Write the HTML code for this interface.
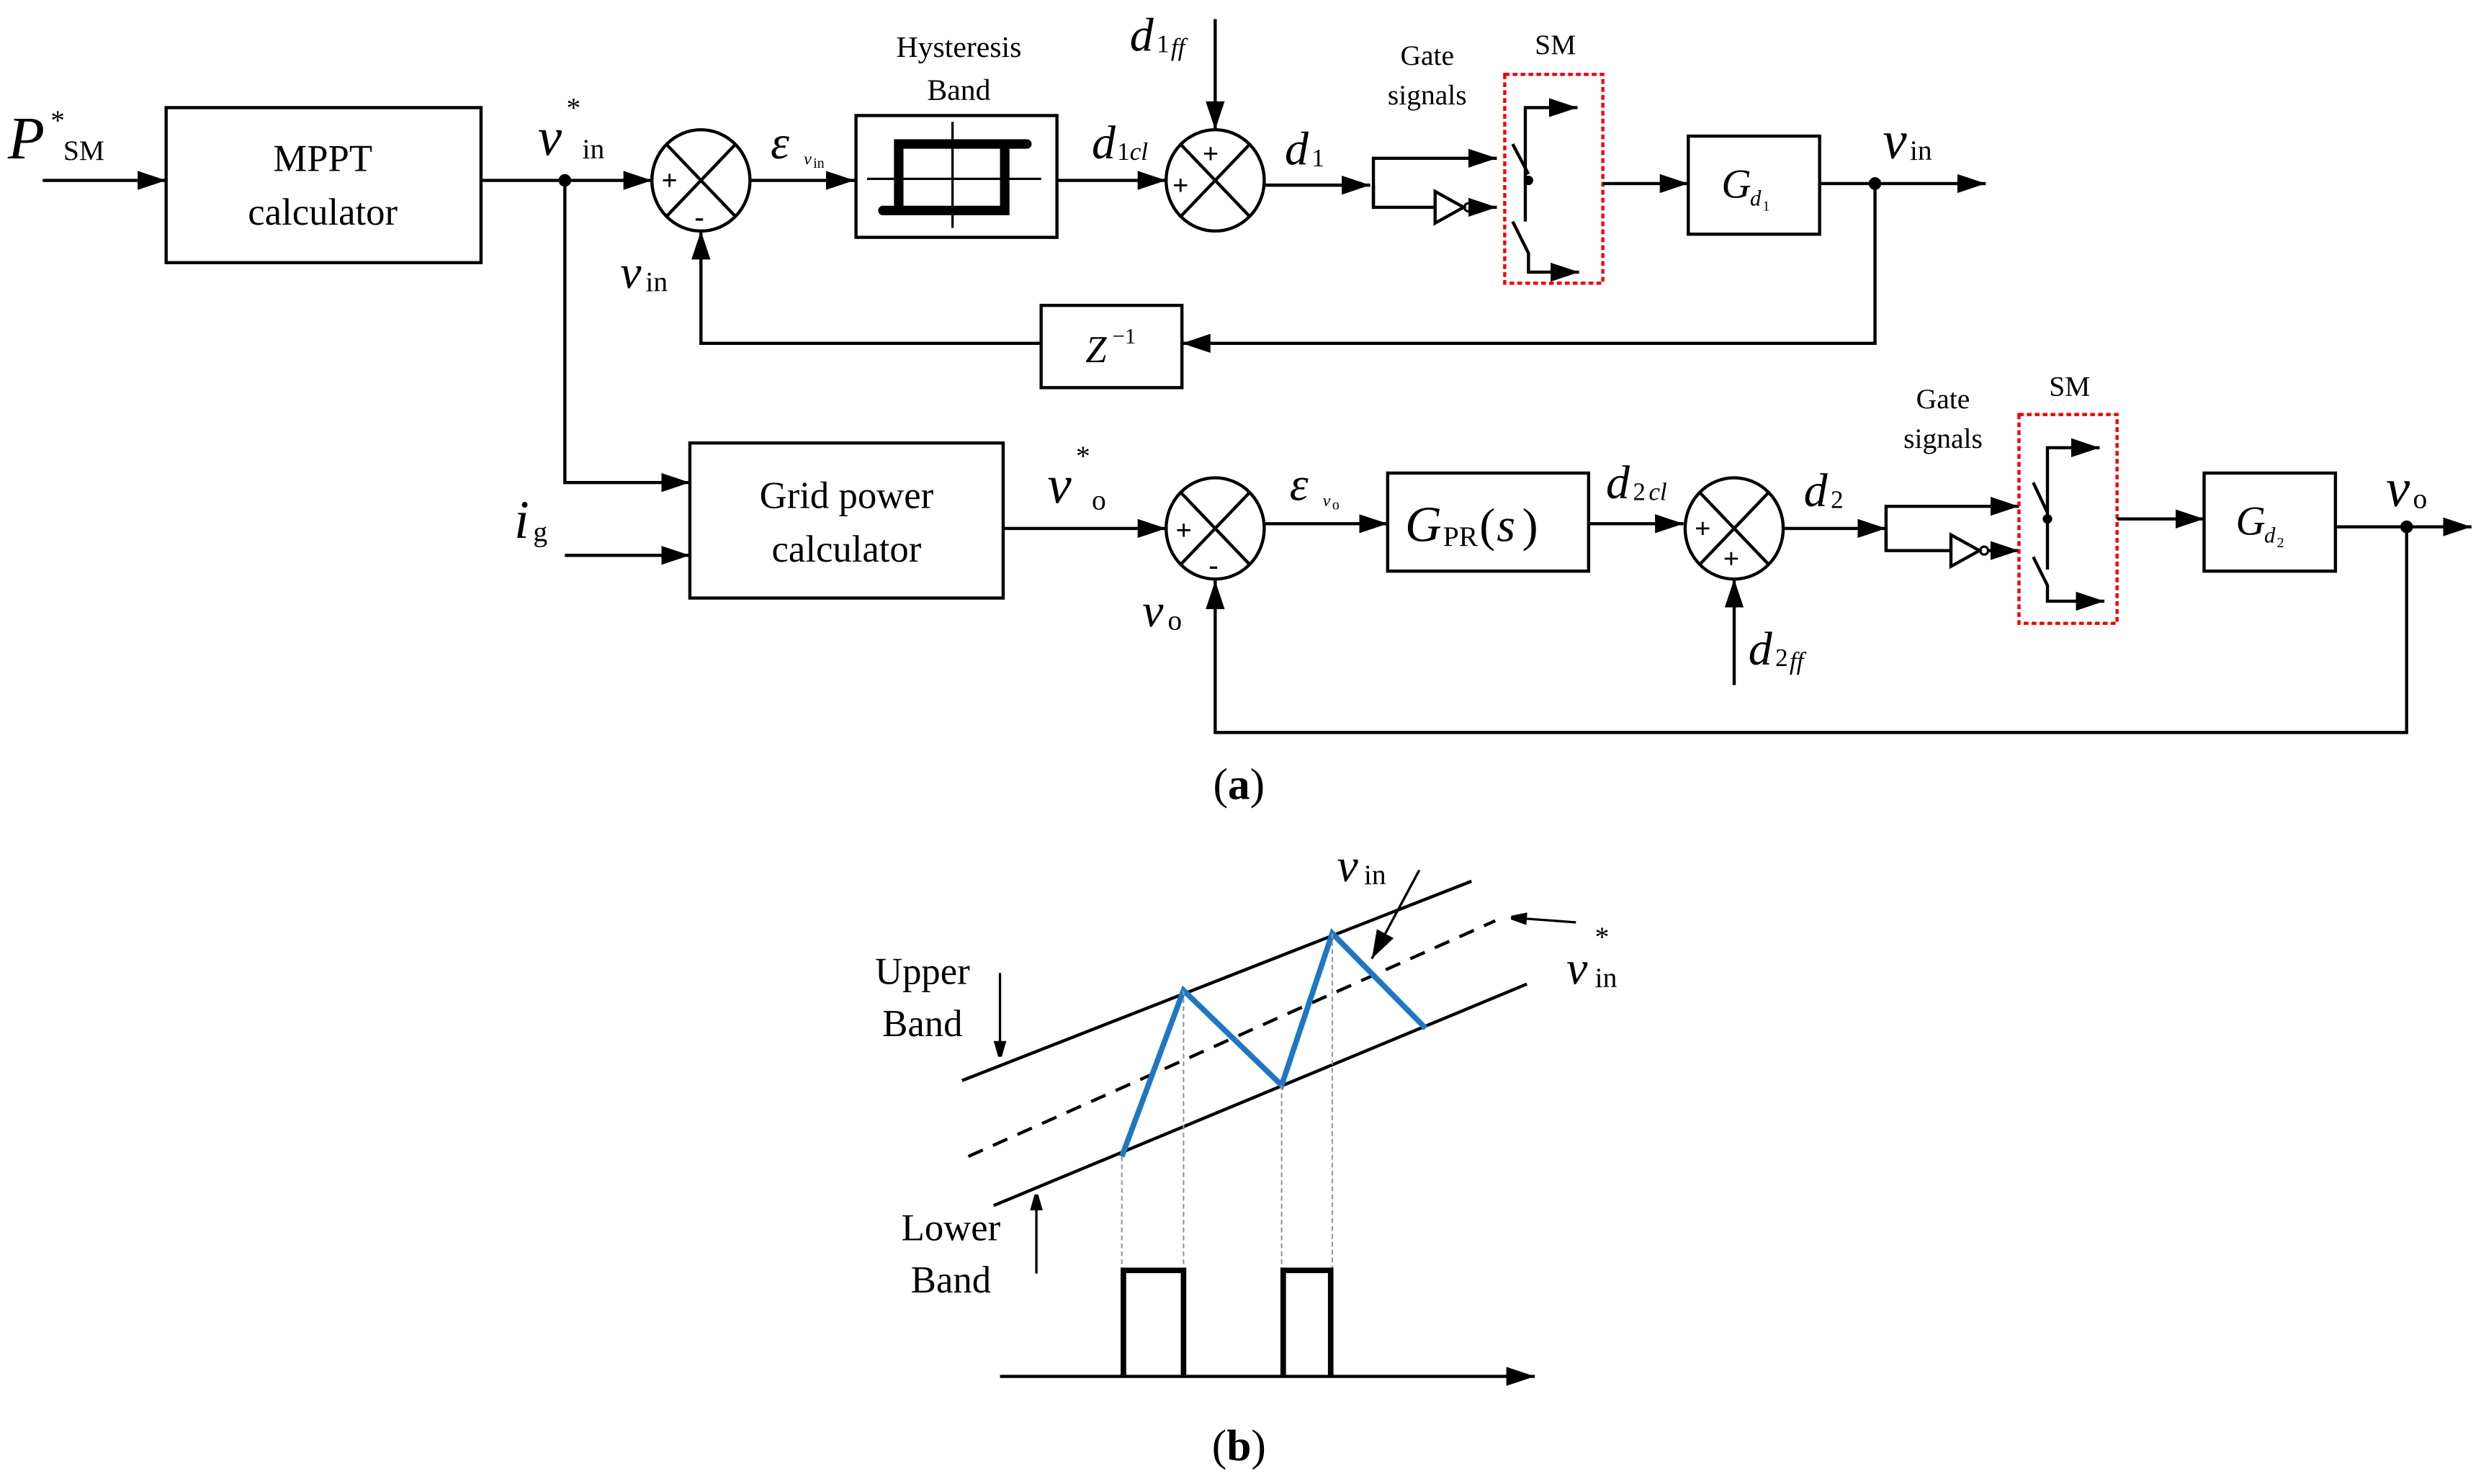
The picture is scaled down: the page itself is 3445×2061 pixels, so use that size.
<!DOCTYPE html>
<html><head><meta charset="utf-8"><style>html,body{margin:0;padding:0;background:#fff}svg{display:block}</style></head>
<body>
<svg xmlns="http://www.w3.org/2000/svg" width="3445" height="2061" viewBox="0 0 1568 938" font-family="Liberation Serif, serif">
<defs>
<marker id="a" markerWidth="10" markerHeight="8" refX="10" refY="4" orient="auto" markerUnits="userSpaceOnUse"><path d="M0,0L14,4L0,8z" fill="#000"/></marker>
<marker id="ab" markerWidth="18" markerHeight="12" refX="18" refY="6" orient="auto" markerUnits="userSpaceOnUse"><path d="M0,0L18,6L0,12z" fill="#000"/></marker>
</defs>
<g stroke="#000" stroke-width="2" fill="none">
<!-- top row -->
<line x1="27" y1="114" x2="105" y2="114" marker-end="url(#ab)"/>
<rect x="105" y="68" width="199" height="98"/>
<line x1="304" y1="114" x2="412" y2="114" marker-end="url(#ab)"/>
<ellipse cx="443" cy="114" rx="31" ry="32"/>
<line x1="421" y1="91" x2="465" y2="137"/><line x1="465" y1="91" x2="421" y2="137"/>
<line x1="475" y1="114" x2="540" y2="114" marker-end="url(#ab)"/>
<rect x="541" y="73" width="127" height="77"/>
<line x1="548" y1="113" x2="658" y2="113" stroke-width="1.5"/><line x1="602" y1="77" x2="602" y2="144" stroke-width="1.5"/>
<path d="M649,91L568,91L568,133M558,133L635,133L635,91" stroke-width="6" stroke-linecap="round"/>
<line x1="668" y1="114" x2="737" y2="114" marker-end="url(#ab)"/>
<ellipse cx="768" cy="114" rx="31" ry="32"/>
<line x1="746" y1="91" x2="790" y2="137"/><line x1="790" y1="91" x2="746" y2="137"/>
<line x1="768" y1="12" x2="768" y2="82" marker-end="url(#ab)"/>
<line x1="799" y1="117" x2="866" y2="117" marker-end="url(#ab)"/>
<path d="M868,131L868,100L946,100" marker-end="url(#ab)"/>
<path d="M868,117L868,131L907,131"/>
<path d="M907,121L907,141L925,131z"/><circle cx="928" cy="131" r="2.5" stroke-width="1.5"/>
<line x1="931" y1="131" x2="946" y2="131" marker-end="url(#ab)"/>
<path d="M964,140L964,68L997,68" marker-end="url(#ab)"/>
<line x1="956" y1="91" x2="966" y2="110"/><circle cx="966" cy="114" r="2" fill="#000"/>
<path d="M956,140L966,160L966,172L998,172" marker-end="url(#ab)"/>
<rect x="951" y="47" width="62" height="132" stroke="#e00" stroke-dasharray="3,2"/>
<line x1="1013" y1="116" x2="1067" y2="116" marker-end="url(#ab)"/>
<rect x="1067" y="86" width="83" height="62"/>
<line x1="1150" y1="116" x2="1255" y2="116" marker-end="url(#ab)"/>
<path d="M1185,116L1185,217L747,217" marker-end="url(#ab)"/>
<rect x="658" y="193" width="89" height="52"/>
<path d="M658,217L443,217L443,146" marker-end="url(#ab)"/>
<!-- second row -->
<path d="M357,114L357,305L436,305" marker-end="url(#ab)"/>
<line x1="357" y1="351" x2="436" y2="351" marker-end="url(#ab)"/>
<rect x="436" y="280" width="198" height="98"/>
<line x1="634" y1="334" x2="737" y2="334" marker-end="url(#ab)"/>
<ellipse cx="768" cy="334" rx="31" ry="32"/>
<line x1="746" y1="311" x2="790" y2="357"/><line x1="790" y1="311" x2="746" y2="357"/>
<line x1="799" y1="331" x2="877" y2="331" marker-end="url(#ab)"/>
<rect x="877" y="299" width="127" height="62"/>
<line x1="1004" y1="331" x2="1064" y2="331" marker-end="url(#ab)"/>
<ellipse cx="1096" cy="334" rx="31" ry="32"/>
<line x1="1074" y1="311" x2="1118" y2="357"/><line x1="1118" y1="311" x2="1074" y2="357"/>
<line x1="1096" y1="433" x2="1096" y2="366" marker-end="url(#ab)"/>
<line x1="1127" y1="334" x2="1192" y2="334" marker-end="url(#ab)"/>
<path d="M1192,348L1192,320L1276,320" marker-end="url(#ab)"/>
<path d="M1192,334L1192,348L1233,348"/>
<path d="M1233,338L1233,358L1251,348z"/><circle cx="1254" cy="348" r="2.5" stroke-width="1.5"/>
<line x1="1257" y1="348" x2="1276" y2="348" marker-end="url(#ab)"/>
<path d="M1294,360L1294,283L1327,283" marker-end="url(#ab)"/>
<line x1="1285" y1="305" x2="1294" y2="324"/><circle cx="1294" cy="328" r="2" fill="#000"/>
<path d="M1285,352L1294,370L1294,380L1330,380" marker-end="url(#ab)"/>
<rect x="1276" y="262" width="62" height="132" stroke="#e00" stroke-dasharray="3,2"/>
<line x1="1338" y1="328" x2="1393" y2="328" marker-end="url(#ab)"/>
<rect x="1393" y="299" width="83" height="62"/>
<line x1="1476" y1="333" x2="1562" y2="333" marker-end="url(#ab)"/>
<path d="M1521,333L1521,463L768,463L768,367" marker-end="url(#ab)"/>
<circle cx="357" cy="114" r="3" fill="#000"/><circle cx="1185" cy="116" r="3" fill="#000"/><circle cx="1521" cy="333" r="3" fill="#000"/>
<!-- part b -->
<line x1="608" y1="683" x2="930" y2="557"/>
<line x1="612" y1="731" x2="945" y2="582" stroke-dasharray="10,7"/>
<line x1="628" y1="762" x2="965" y2="622"/>
<polyline points="709,731 748,626 810,686 842,590 901,650" stroke="#1f77c4" stroke-width="3.5"/>
<g stroke="#999" stroke-width="1" stroke-dasharray="3,2">
<line x1="709" y1="731" x2="709" y2="870"/><line x1="748" y1="626" x2="748" y2="870"/>
<line x1="810" y1="686" x2="810" y2="870"/><line x1="842" y1="590" x2="842" y2="870"/>
</g>
<line x1="632" y1="870" x2="970" y2="870" marker-end="url(#ab)"/>
<path d="M710,870L710,803L748,803L748,870M811,870L811,803L841,803L841,870" stroke-width="3.5"/>
<line x1="632" y1="615" x2="632" y2="668" stroke-width="1.5" marker-end="url(#a)"/>
<line x1="655" y1="805" x2="655" y2="755" stroke-width="1.5" marker-end="url(#a)"/>
<line x1="897" y1="550" x2="867" y2="606" stroke-width="1.5" marker-end="url(#ab)"/>
<line x1="996" y1="583" x2="955" y2="580" stroke-width="1.5" marker-end="url(#a)"/>
</g>
<g fill="#000" font-family="Liberation Serif, serif">
<text x="5" y="100" font-size="38" font-style="italic">P</text><text x="32" y="82" font-size="18">*</text><text x="40" y="101" font-size="18">SM</text>
<text x="204" y="108" font-size="24" text-anchor="middle">MPPT</text>
<text x="204" y="142" font-size="24" text-anchor="middle">calculator</text>
<text x="340" y="98" font-size="34" font-style="italic">v</text><text x="358" y="74" font-size="18">*</text><text x="368" y="100" font-size="18">in</text>
<text x="418" y="120" font-size="18" font-weight="bold">+</text><text x="439" y="143" font-size="18" font-weight="bold">-</text>
<text x="487" y="100" font-size="30" font-style="italic">ε</text><text x="508" y="104" font-size="11" font-style="italic">v</text><text x="514" y="106" font-size="9">in</text>
<text x="606" y="36" font-size="19" text-anchor="middle">Hysteresis</text>
<text x="606" y="63" font-size="19" text-anchor="middle">Band</text>
<text x="690" y="100" font-size="30" font-style="italic">d</text><text x="706" y="101" font-size="16">1</text><text x="714" y="101" font-size="16" font-style="italic">cl</text>
<text x="714" y="32" font-size="30" font-style="italic">d</text><text x="731" y="33" font-size="16">1</text><text x="740" y="35" font-size="16" font-style="italic">ff</text>
<text x="760" y="103" font-size="18" font-weight="bold">+</text><text x="741" y="123" font-size="18" font-weight="bold">+</text>
<text x="812" y="104" font-size="30" font-style="italic">d</text><text x="829" y="105" font-size="16">1</text>
<text x="902" y="41" font-size="18" text-anchor="middle">Gate</text><text x="902" y="66" font-size="18" text-anchor="middle">signals</text>
<text x="983" y="34" font-size="18" text-anchor="middle">SM</text>
<text x="1088" y="125" font-size="26" font-style="italic">G</text><text x="1106" y="130" font-size="14" font-style="italic">d</text><text x="1114" y="133" font-size="9">1</text>
<text x="1190" y="100" font-size="34" font-style="italic">v</text><text x="1207" y="101" font-size="18">in</text>
<text x="686" y="229" font-size="24" font-style="italic">Z</text><text x="703" y="217" font-size="14">−1</text>
<text x="392" y="182" font-size="30" font-style="italic">v</text><text x="408" y="184" font-size="18">in</text>
<text x="325" y="340" font-size="34" font-style="italic">i</text><text x="337" y="342" font-size="18">g</text>
<text x="535" y="321" font-size="24" text-anchor="middle">Grid power</text>
<text x="535" y="355" font-size="24" text-anchor="middle">calculator</text>
<text x="662" y="318" font-size="34" font-style="italic">v</text><text x="680" y="294" font-size="18">*</text><text x="690" y="322" font-size="18">o</text>
<text x="743" y="341" font-size="18" font-weight="bold">+</text><text x="764" y="363" font-size="18" font-weight="bold">-</text>
<text x="815" y="316" font-size="30" font-style="italic">ε</text><text x="836" y="320" font-size="11" font-style="italic">v</text><text x="842" y="322" font-size="9">o</text>
<text x="888" y="342" font-size="32" font-style="italic">G</text><text x="912" y="345" font-size="18">PR</text><text x="935" y="342" font-size="30">(</text><text x="946" y="342" font-size="30" font-style="italic">s</text><text x="962" y="342" font-size="30">)</text>
<text x="1015" y="315" font-size="30" font-style="italic">d</text><text x="1032" y="316" font-size="16">2</text><text x="1042" y="316" font-size="16" font-style="italic">cl</text>
<text x="1071" y="340" font-size="18" font-weight="bold">+</text><text x="1089" y="359" font-size="18" font-weight="bold">+</text>
<text x="1105" y="420" font-size="30" font-style="italic">d</text><text x="1122" y="421" font-size="16">2</text><text x="1131" y="423" font-size="16" font-style="italic">ff</text>
<text x="1140" y="320" font-size="30" font-style="italic">d</text><text x="1157" y="321" font-size="16">2</text>
<text x="1228" y="258" font-size="18" text-anchor="middle">Gate</text><text x="1228" y="283" font-size="18" text-anchor="middle">signals</text>
<text x="1308" y="250" font-size="18" text-anchor="middle">SM</text>
<text x="1413" y="338" font-size="26" font-style="italic">G</text><text x="1431" y="343" font-size="14" font-style="italic">d</text><text x="1439" y="346" font-size="9">2</text>
<text x="1508" y="320" font-size="34" font-style="italic">v</text><text x="1525" y="321" font-size="18">o</text>
<text x="722" y="396" font-size="30" font-style="italic">v</text><text x="738" y="398" font-size="18">o</text>
<text x="783" y="505" font-size="28" text-anchor="middle">(<tspan font-weight="bold">a</tspan>)</text>
<text x="583" y="622" font-size="24" text-anchor="middle">Upper</text><text x="583" y="655" font-size="24" text-anchor="middle">Band</text>
<text x="601" y="784" font-size="24" text-anchor="middle">Lower</text><text x="601" y="817" font-size="24" text-anchor="middle">Band</text>
<text x="845" y="557" font-size="30" font-style="italic">v</text><text x="862" y="559" font-size="18">in</text>
<text x="990" y="622" font-size="30" font-style="italic">v</text><text x="1008" y="598" font-size="18">*</text><text x="1008" y="624" font-size="18">in</text>
<text x="783" y="923" font-size="28" text-anchor="middle">(<tspan font-weight="bold">b</tspan>)</text>
</g>
</svg>
</body></html>
